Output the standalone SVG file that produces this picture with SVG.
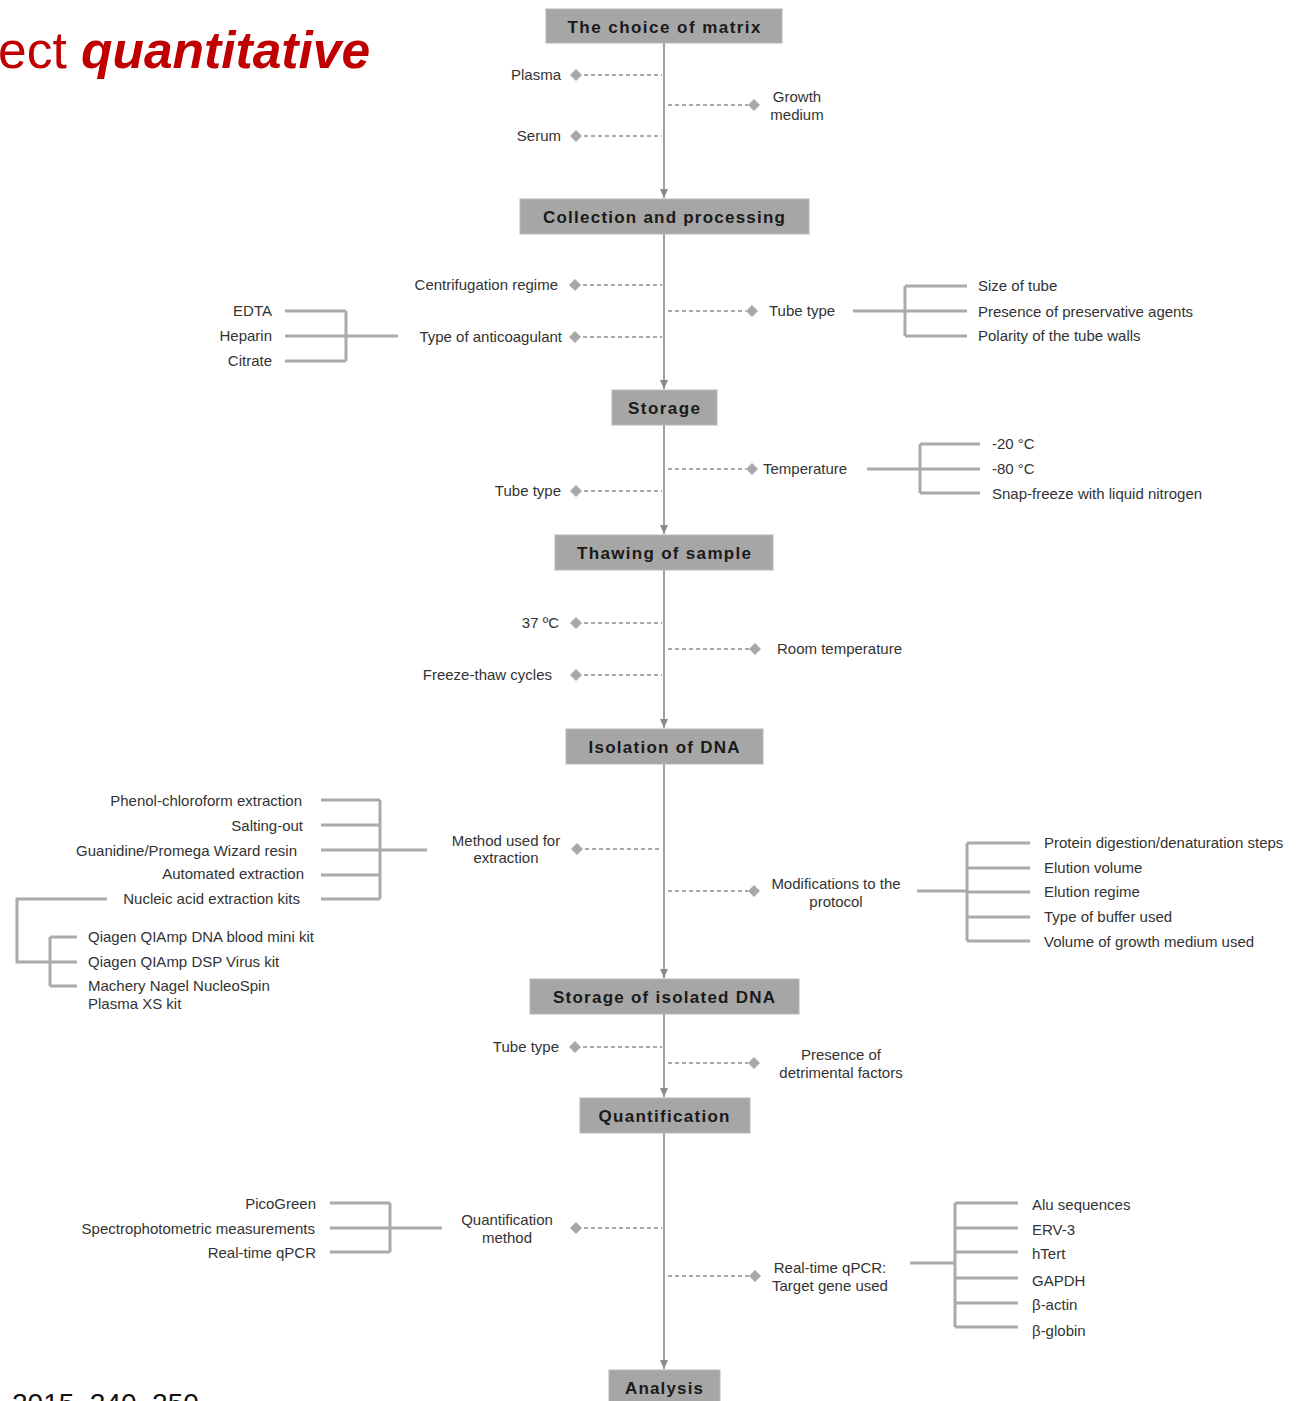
<svg xmlns="http://www.w3.org/2000/svg" width="1308" height="1401" viewBox="0 0 1308 1401">
<style>
.box{fill:#a6a6a6;stroke:#b8b8b8;stroke-width:1}
.bt{font-family:"Liberation Sans",Arial,sans-serif;font-weight:bold;font-size:17px;fill:#1a1a1a;text-anchor:middle}
.t{font-family:"Liberation Sans",Arial,sans-serif;font-size:15px;fill:#333}
.r{text-anchor:end}
.m{text-anchor:middle}
.dash{stroke:#555;stroke-width:1.2;stroke-dasharray:4 3;fill:none}
.dia{fill:#a8a8a8}
.br{stroke:#aaa;stroke-width:3;fill:none}
.main{stroke:#8a8a8a;stroke-width:1.6;fill:none;marker-end:url(#ah)}
</style>
<defs>
<marker id="ah" markerWidth="10" markerHeight="10" refX="9" refY="5" orient="auto" markerUnits="userSpaceOnUse">
<path d="M0,1 L9,5 L0,9 z" fill="#8a8a8a"/>
</marker>
<path id="d" d="M0,-6 L6,0 L0,6 L-6,0 z"/>
</defs>
<rect width="1308" height="1401" fill="#fff"/>

<g id="title">
<text x="-2" y="68" font-family="'Liberation Sans',Arial,sans-serif" font-size="51.5" fill="#c00000">ect <tspan font-weight="bold" font-style="italic">quantitative</tspan></text>
</g>
<g id="ref">
<text x="12" y="1413" font-family="'Liberation Sans',Arial,sans-serif" font-size="28" fill="#111">2015, 240, 250</text>
</g>

<g id="connectors">
<line class="main" x1="664" y1="43" x2="664" y2="198"/>
<line class="main" x1="664" y1="234" x2="664" y2="389"/>
<line class="main" x1="664" y1="425" x2="664" y2="534"/>
<line class="main" x1="664" y1="570" x2="664" y2="728"/>
<line class="main" x1="664" y1="764" x2="664" y2="978"/>
<line class="main" x1="664" y1="1014" x2="664" y2="1097"/>
<line class="main" x1="664" y1="1133" x2="664" y2="1369"/>

<path class="dash" d="M584,75 H662 M584,136 H662 M668,105 H748"/>
<path class="dash" d="M583,285 H662 M583,337 H662 M668,311 H746"/>
<path class="dash" d="M668,469 H746 M584,491 H662"/>
<path class="dash" d="M584,623 H662 M584,675 H662 M668,649 H749"/>
<path class="dash" d="M585,849 H662 M668,891 H748"/>
<path class="dash" d="M583,1047 H662 M668,1063 H748"/>
<path class="dash" d="M584,1228 H662 M668,1276 H749"/>

<path class="br" d="M285,311 H346 M285,336 H346 M285,361 H346 M346,311 V361 M346,336 H398"/>
<path class="br" d="M853,311 H905 M905,286 V336 M905,286 H967 M905,311 H967 M905,336 H967"/>
<path class="br" d="M867,469 H920 M920,444 V493 M920,444 H980 M920,469 H980 M920,493 H980"/>
<path class="br" d="M321,800 H380 M321,825 H380 M321,850 H380 M321,875 H380 M321,899 H380 M380,800 V899 M380,850 H427"/>
<path class="br" d="M107,899 H17 V962 H50 M50,937 V986 M50,937 H77 M50,962 H77 M50,986 H77"/>
<path class="br" d="M917,891 H967 M967,843 V941 M967,843 H1030 M967,868 H1030 M967,892 H1030 M967,917 H1030 M967,941 H1030"/>
<path class="br" d="M330,1203 H390 M330,1228 H390 M330,1252 H390 M390,1203 V1252 M390,1228 H442"/>
<path class="br" d="M910,1263 H955 M955,1203 V1327 M955,1203 H1018 M955,1228 H1018 M955,1252 H1018 M955,1278 H1018 M955,1303 H1018 M955,1327 H1018"/>

<g class="dia">
<use href="#d" x="576" y="75"/><use href="#d" x="576" y="136"/><use href="#d" x="754" y="105"/>
<use href="#d" x="575" y="285"/><use href="#d" x="575" y="337"/><use href="#d" x="752" y="311"/>
<use href="#d" x="752" y="469"/><use href="#d" x="576" y="491"/>
<use href="#d" x="576" y="623"/><use href="#d" x="576" y="675"/><use href="#d" x="755" y="649"/>
<use href="#d" x="577" y="849"/><use href="#d" x="754" y="891"/>
<use href="#d" x="575" y="1047"/><use href="#d" x="754" y="1063"/>
<use href="#d" x="576" y="1228"/><use href="#d" x="755" y="1276"/>
</g>
</g>

<g id="n-matrix"><rect class="box" x="546" y="9" width="236" height="34"/><text class="bt" x="664" y="33" textLength="193" lengthAdjust="spacing">The choice of matrix</text></g>
<g id="n-collection"><rect class="box" x="520" y="199" width="289" height="35"/><text class="bt" x="664" y="223" textLength="242" lengthAdjust="spacing">Collection and processing</text></g>
<g id="n-storage"><rect class="box" x="612" y="390" width="105" height="35"/><text class="bt" x="664" y="414" textLength="72" lengthAdjust="spacing">Storage</text></g>
<g id="n-thawing"><rect class="box" x="555" y="535" width="218" height="35"/><text class="bt" x="664" y="559" textLength="174" lengthAdjust="spacing">Thawing of sample</text></g>
<g id="n-isolation"><rect class="box" x="566" y="729" width="197" height="35"/><text class="bt" x="664" y="753" textLength="151" lengthAdjust="spacing">Isolation of DNA</text></g>
<g id="n-storage-dna"><rect class="box" x="530" y="979" width="269" height="35"/><text class="bt" x="664" y="1003" textLength="222" lengthAdjust="spacing">Storage of isolated DNA</text></g>
<g id="n-quant"><rect class="box" x="580" y="1098" width="170" height="35"/><text class="bt" x="664" y="1122" textLength="131" lengthAdjust="spacing">Quantification</text></g>
<g id="n-analysis"><rect class="box" x="609" y="1370" width="111" height="40"/><text class="bt" x="664" y="1394" textLength="78" lengthAdjust="spacing">Analysis</text></g>

<g id="l-matrix">
<text class="t r" x="561" y="80">Plasma</text>
<text class="t r" x="561" y="141">Serum</text>
<text class="t m" x="797" y="102">Growth</text>
<text class="t m" x="797" y="120">medium</text>
</g>
<g id="l-collection">
<text class="t r" x="558" y="290">Centrifugation regime</text>
<text class="t r" x="562" y="342">Type of anticoagulant</text>
<text class="t" x="769" y="316">Tube type</text>
<text class="t r" x="272" y="316">EDTA</text>
<text class="t r" x="272" y="341">Heparin</text>
<text class="t r" x="272" y="366">Citrate</text>
<text class="t" x="978" y="291">Size of tube</text>
<text class="t" x="978" y="317">Presence of preservative agents</text>
<text class="t" x="978" y="341">Polarity of the tube walls</text>
</g>
<g id="l-storage">
<text class="t" x="763" y="474">Temperature</text>
<text class="t r" x="561" y="496">Tube type</text>
<text class="t" x="992" y="449">-20 °C</text>
<text class="t" x="992" y="474">-80 °C</text>
<text class="t" x="992" y="499">Snap-freeze with liquid nitrogen</text>
</g>
<g id="l-thawing">
<text class="t r" x="559" y="628">37 ºC</text>
<text class="t r" x="552" y="680">Freeze-thaw cycles</text>
<text class="t" x="777" y="654">Room temperature</text>
</g>
<g id="l-isolation">
<text class="t m" x="506" y="846">Method used for</text>
<text class="t m" x="506" y="863">extraction</text>
<text class="t r" x="302" y="806">Phenol-chloroform extraction</text>
<text class="t r" x="303" y="831">Salting-out</text>
<text class="t r" x="297" y="856">Guanidine/Promega Wizard resin</text>
<text class="t r" x="304" y="879">Automated extraction</text>
<text class="t r" x="300" y="904">Nucleic acid extraction  kits</text>
<text class="t" x="88" y="942">Qiagen QIAmp DNA blood mini kit</text>
<text class="t" x="88" y="967">Qiagen QIAmp DSP Virus kit</text>
<text class="t" x="88" y="991">Machery Nagel NucleoSpin</text>
<text class="t" x="88" y="1009">Plasma XS kit</text>
<text class="t m" x="836" y="889">Modifications to the</text>
<text class="t m" x="836" y="907">protocol</text>
<text class="t" x="1044" y="848">Protein digestion/denaturation steps</text>
<text class="t" x="1044" y="873">Elution volume</text>
<text class="t" x="1044" y="897">Elution regime</text>
<text class="t" x="1044" y="922">Type of buffer used</text>
<text class="t" x="1044" y="947">Volume of growth medium used</text>
</g>
<g id="l-storage-dna">
<text class="t r" x="559" y="1052">Tube type</text>
<text class="t m" x="841" y="1060">Presence of</text>
<text class="t m" x="841" y="1078">detrimental factors</text>
</g>
<g id="l-quant">
<text class="t m" x="507" y="1225">Quantification</text>
<text class="t m" x="507" y="1243">method</text>
<text class="t r" x="316" y="1209">PicoGreen</text>
<text class="t r" x="315" y="1234">Spectrophotometric measurements</text>
<text class="t r" x="316" y="1258">Real-time qPCR</text>
<text class="t m" x="830" y="1273">Real-time qPCR:</text>
<text class="t m" x="830" y="1291">Target gene used</text>
<text class="t" x="1032" y="1210">Alu sequences</text>
<text class="t" x="1032" y="1235">ERV-3</text>
<text class="t" x="1032" y="1259">hTert</text>
<text class="t" x="1032" y="1286">GAPDH</text>
<text class="t" x="1032" y="1310">β-actin</text>
<text class="t" x="1032" y="1336">β-globin</text>
</g>
</svg>
